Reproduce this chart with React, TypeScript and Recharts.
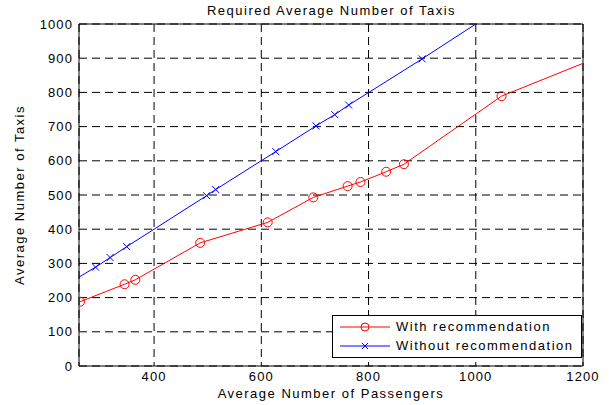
import React from 'react';
import { LineChart, Line, XAxis, YAxis, CartesianGrid, ReferenceLine, Label } from 'recharts';

// Average passengers (x) vs. required taxis (y)
const passengersWith = [262, 345, 365, 486, 612, 697, 761, 785, 833, 866, 1048, 1200];
const taxisWith = [188, 239, 252, 360, 420, 493, 526, 538, 568, 590, 789, 885];
const passengersWithout = [260, 291, 318, 349, 498, 515, 627, 702, 737, 763, 900, 1000];
const taxisWithout = [260, 289, 317, 349, 498, 516, 627, 702, 735, 763, 898, 1000];

const xTicks = [400, 600, 800, 1000, 1200];
const yTicks = [0, 100, 200, 300, 400, 500, 600, 700, 800, 900, 1000];

const withData = passengersWith.map((x, i) => ({ x, y: taxisWith[i], mark: i < passengersWith.length - 1 }));
const withoutData = passengersWithout.map((x, i) => ({
  x,
  y: taxisWithout[i],
  mark: i > 0 && i < passengersWithout.length - 1,
}));

const FONT = '"Liberation Sans", Arial, sans-serif';
const textStyle = { fill: '#000', fontSize: 13, fontFamily: FONT, letterSpacing: 1.5 };
const tickStyle = { fill: '#000', fontSize: 13, fontFamily: FONT, letterSpacing: 1.1 };

const CircleDot = (props: any) => {
  const { cx, cy, payload, index } = props;
  if (!payload || !payload.mark) return <g key={`c-${index}`} />;
  return <circle key={`c-${index}`} cx={cx} cy={cy} r={4.5} fill="none" stroke="#ff0000" strokeWidth={1} />;
};

const CrossDot = (props: any) => {
  const { cx, cy, payload, index } = props;
  if (!payload || !payload.mark) return <g key={`x-${index}`} />;
  const s = 3.5;
  return (
    <g key={`x-${index}`} stroke="#0000ff" strokeWidth={1}>
      <line x1={cx - s} y1={cy - s} x2={cx + s} y2={cy + s} />
      <line x1={cx - s} y1={cy + s} x2={cx + s} y2={cy - s} />
    </g>
  );
};

const LegendBox = () => (
  <div
    style={{
      position: 'absolute',
      left: 332,
      top: 315,
      width: 241,
      height: 40,
      border: '1px solid #000',
      background: '#fff',
      fontFamily: FONT,
      fontSize: 13,
      letterSpacing: 1.5,
      color: '#000',
      paddingLeft: 7,
      paddingTop: 1,
      lineHeight: '19px',
    }}
  >
    <div style={{ display: 'flex', alignItems: 'center' }}>
      <svg width={50} height={12} style={{ marginRight: 6 }}>
        <line x1={0} y1={6} x2={50} y2={6} stroke="#ff0000" />
        <circle cx={25} cy={6} r={4} fill="none" stroke="#ff0000" />
      </svg>
      With recommendation
    </div>
    <div style={{ display: 'flex', alignItems: 'center' }}>
      <svg width={50} height={12} style={{ marginRight: 6 }}>
        <line x1={0} y1={6} x2={50} y2={6} stroke="#0000ff" />
        <line x1={22} y1={3} x2={28} y2={9} stroke="#0000ff" />
        <line x1={22} y1={9} x2={28} y2={3} stroke="#0000ff" />
      </svg>
      Without recommendation
    </div>
  </div>
);

export default function App() {
  return (
    <div style={{ position: 'absolute', left: 0, top: 0, width: 609, height: 405, background: '#fff' }}>
      <div
        style={{
          position: 'absolute',
          left: 0,
          width: 663,
          top: 3,
          textAlign: 'center',
          fontFamily: FONT,
          fontSize: 13,
          letterSpacing: 1.5,
        }}
      >
        Required Average Number of Taxis
      </div>
      <LineChart width={609} height={405} margin={{ top: 24, right: 26, bottom: 9, left: 0 }}>
        <CartesianGrid stroke="#000" strokeDasharray="8 5" strokeWidth={1} />
        <XAxis
          dataKey="x"
          type="number"
          domain={[260, 1200]}
          ticks={xTicks}
          allowDataOverflow
          height={30}
          stroke="#000"
          tickLine={false}
          tickSize={0}
          tickMargin={6}
          tick={tickStyle}
        >
          <Label value="Average Number of Passengers" position="insideBottom" offset={-2} style={textStyle} />
        </XAxis>
        <YAxis
          type="number"
          domain={[0, 1000]}
          ticks={yTicks}
          allowDataOverflow
          width={79}
          stroke="#000"
          tickLine={false}
          tickSize={0}
          tickMargin={6}
          tick={tickStyle}
        >
          <Label
            value="Average Number of Taxis"
            angle={-90}
            position="insideLeft"
            offset={19}
            style={{ ...textStyle, textAnchor: 'middle' }}
          />
        </YAxis>
        <ReferenceLine y={1000} stroke="#000" />
        <ReferenceLine x={1200} stroke="#000" />
        <Line
          data={withoutData}
          dataKey="y"
          stroke="#0000ff"
          strokeWidth={1}
          dot={<CrossDot />}
          activeDot={false}
          isAnimationActive={false}
        />
        <Line
          data={withData}
          dataKey="y"
          stroke="#ff0000"
          strokeWidth={1}
          dot={<CircleDot />}
          activeDot={false}
          isAnimationActive={false}
        />
      </LineChart>
      <LegendBox />
    </div>
  );
}
